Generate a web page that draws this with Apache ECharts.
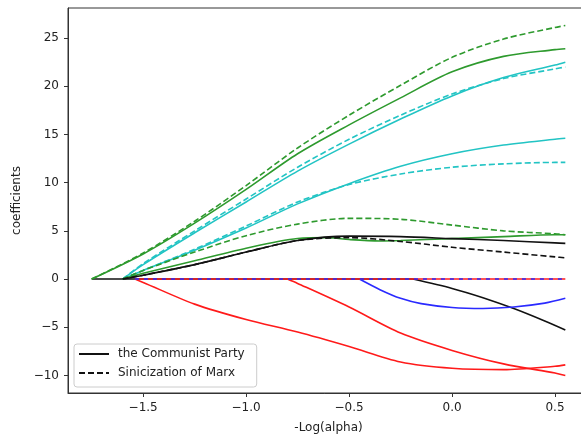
<!DOCTYPE html>
<html>
<head>
<meta charset="utf-8">
<script src="https://cdn.jsdelivr.net/npm/echarts@6/dist/echarts.min.js"></script>
<style>
  html, body { margin: 0; padding: 0; background: #fff; }
  #chart { width: 581px; height: 436px; }
</style>
</head>
<body>
<div id="chart"></div>
<script>
// x positions (-log(alpha)) and coefficient values
var greenX = [-1.75, -1.5, -1.25, -1.0, -0.75, -0.5, -0.25, 0, 0.25, 0.5, 0.55]
var greenSolid = [0, 2.6, 5.8, 9.3, 13.0, 16.0, 18.8, 21.5, 23.1, 23.8, 23.9]
var greenDash = [0, 2.7, 6.0, 9.7, 13.6, 17.0, 20.1, 23.0, 24.9, 26.1, 26.3]

var midX = [-1.6, -1.5, -1.25, -1.0, -0.75, -0.5, -0.25, 0, 0.25, 0.5, 0.55]
var cyanSolid = [0, 1.5, 4.8, 8.0, 11.2, 14.0, 16.6, 19.0, 20.9, 22.2, 22.5]
var cyanDash = [0, 1.6, 5.0, 8.3, 11.6, 14.5, 17.0, 19.2, 20.8, 21.8, 22.0]
var cyan2Solid = [0, 0.9, 3.0, 5.3, 7.8, 9.9, 11.7, 13.0, 13.9, 14.5, 14.6]
var cyan2Dash = [0, 0.9, 3.1, 5.5, 8.0, 9.8, 10.9, 11.6, 11.95, 12.1, 12.1]
var green2Dash = [0, 0.9, 2.8, 4.5, 5.7, 6.3, 6.2, 5.6, 5.0, 4.7, 4.6]
var blackSolid = [0, 0.4, 1.5, 2.8, 4.0, 4.45, 4.4, 4.2, 4.0, 3.75, 3.7]
var blackDash = [0, 0.4, 1.5, 2.8, 4.0, 4.3, 3.9, 3.3, 2.8, 2.3, 2.2]

var green2X = [-1.6, -1.5, -1.25, -1.0, -0.75, -0.6, -0.5, -0.35, -0.25, 0, 0.25, 0.5, 0.55]
var green2Solid = [0, 0.6, 1.9, 3.2, 4.2, 4.3, 4.1, 3.95, 4.0, 4.2, 4.4, 4.6, 4.6]

var red1X = [-1.54, -1.5, -1.25, -1.0, -0.75, -0.5, -0.25, 0, 0.25, 0.5, 0.55]
var red1 = [0, -0.35, -2.6, -4.2, -5.5, -7.0, -8.6, -9.25, -9.4, -9.05, -8.9]
var red2X = [-0.8, -0.75, -0.5, -0.25, 0, 0.25, 0.5, 0.55]
var red2 = [0, -0.45, -2.9, -5.6, -7.4, -8.8, -9.75, -10.0]
var blueX = [-0.45, -0.35, -0.25, -0.15, 0, 0.15, 0.3, 0.45, 0.55]
var blue = [0, -1.1, -2.0, -2.55, -2.95, -3.05, -2.9, -2.5, -2.0]
var black2X = [-0.19, 0, 0.15, 0.3, 0.45, 0.55]
var black2 = [0, -0.97, -1.93, -3.06, -4.35, -5.28]

var zeroX = [-1.54, 0.55]
var blackZeroX = [-1.75, -0.19]
var zeroY = [0, 0]

var xTicks = [-1.5, -1.0, -0.5, 0, 0.5]
var yTicks = [-10, -5, 0, 5, 10, 15, 20, 25]

var GREEN = '#2e9a2e'
var CYAN = '#22c4c4'
var RED = '#ff1a1a'
var BLUE = '#2a2aff'
var BLACK = '#111'

var line = function (xs, ys, color, dash, z, smooth) {
  return {
    type: 'line',
    data: xs.map(function (x, i) { return [x, ys[i]] }),
    symbol: 'none',
    smooth: smooth === false ? false : 0.3,
    silent: true,
    z: z,
    lineStyle: { color: color, width: 1.6, type: dash || 'solid' }
  }
}
var D = [6, 3]

var minus = function (s) { return s.replace('-', '\u2212') }

var chart = echarts.init(document.getElementById('chart'))
chart.setOption({
  animation: false,
  textStyle: { fontFamily: 'DejaVu Sans' },
  grid: {
    left: 68, top: 8, width: 521, height: 385,
    outerBoundsMode: 'none',
    show: true, borderColor: '#333', borderWidth: 1
  },
  legend: {
    orient: 'vertical',
    left: 74, top: 344,
    padding: [4, 12, 8, 4],
    itemWidth: 30, itemHeight: 14, itemGap: 7,
    backgroundColor: 'rgba(255,255,255,0.85)',
    borderColor: '#ccc', borderWidth: 1, borderRadius: 3,
    itemStyle: { opacity: 0 },
    textStyle: { fontFamily: 'DejaVu Sans', fontSize: 12, color: '#222', padding: [0, 0, 0, 4] },
    data: ['the Communist Party', 'Sinicization of Marx']
  },
  xAxis: {
    type: 'value',
    min: -1.865, max: 0.665,
    name: '-Log(alpha)',
    nameLocation: 'middle',
    nameGap: 29,
    nameTextStyle: { fontFamily: 'DejaVu Sans', fontSize: 12, color: '#222' },
    axisLine: { onZero: false, lineStyle: { color: '#333' } },
    axisTick: { customValues: xTicks, length: 4, lineStyle: { color: '#333' } },
    axisLabel: {
      customValues: xTicks, margin: 9, fontSize: 12, color: '#222',
      formatter: function (v) { return minus(v.toFixed(1)) }
    },
    splitLine: { show: false }
  },
  yAxis: {
    type: 'value',
    min: -11.82, max: 28.12,
    name: 'coefficients',
    nameLocation: 'middle',
    nameGap: 42,
    nameTextStyle: { fontFamily: 'DejaVu Sans', fontSize: 12, color: '#222' },
    axisLine: { onZero: false, lineStyle: { color: '#333' } },
    axisTick: { customValues: yTicks, length: 4, lineStyle: { color: '#333' } },
    axisLabel: {
      customValues: yTicks, margin: 9, fontSize: 12, color: '#222',
      formatter: function (v) { return minus(String(v)) }
    },
    splitLine: { show: false }
  },
  series: [
    line(blackZeroX, zeroY, BLACK, null, 1, false),
    line(black2X, black2, BLACK, null, 2),
    line(red2X, red2, RED, null, 2),
    line(blueX, blue, BLUE, null, 2),
    line(red1X, red1, RED, null, 2),
    line(zeroX, zeroY, RED, null, 3, false),
    line(zeroX, zeroY, BLUE, [4, 5], 4, false),
    line(midX, cyan2Solid, CYAN, null, 5),
    line(midX, cyan2Dash, CYAN, D, 5),
    line(midX, cyanSolid, CYAN, null, 5),
    line(midX, cyanDash, CYAN, D, 5),
    line(midX, green2Dash, GREEN, D, 5),
    line(green2X, green2Solid, GREEN, null, 5),
    line(midX, blackDash, BLACK, D, 6),
    line(midX, blackSolid, BLACK, null, 6),
    line(greenX, greenSolid, GREEN, null, 6),
    line(greenX, greenDash, GREEN, D, 6),
    // legend entries
    { type: 'line', name: 'the Communist Party', data: [], symbol: 'none', lineStyle: { color: BLACK, width: 1.6 }, itemStyle: { color: BLACK } },
    { type: 'line', name: 'Sinicization of Marx', data: [], symbol: 'none', lineStyle: { color: BLACK, width: 1.6, type: D }, itemStyle: { color: BLACK } }
  ]
})
</script>
</body>
</html>
